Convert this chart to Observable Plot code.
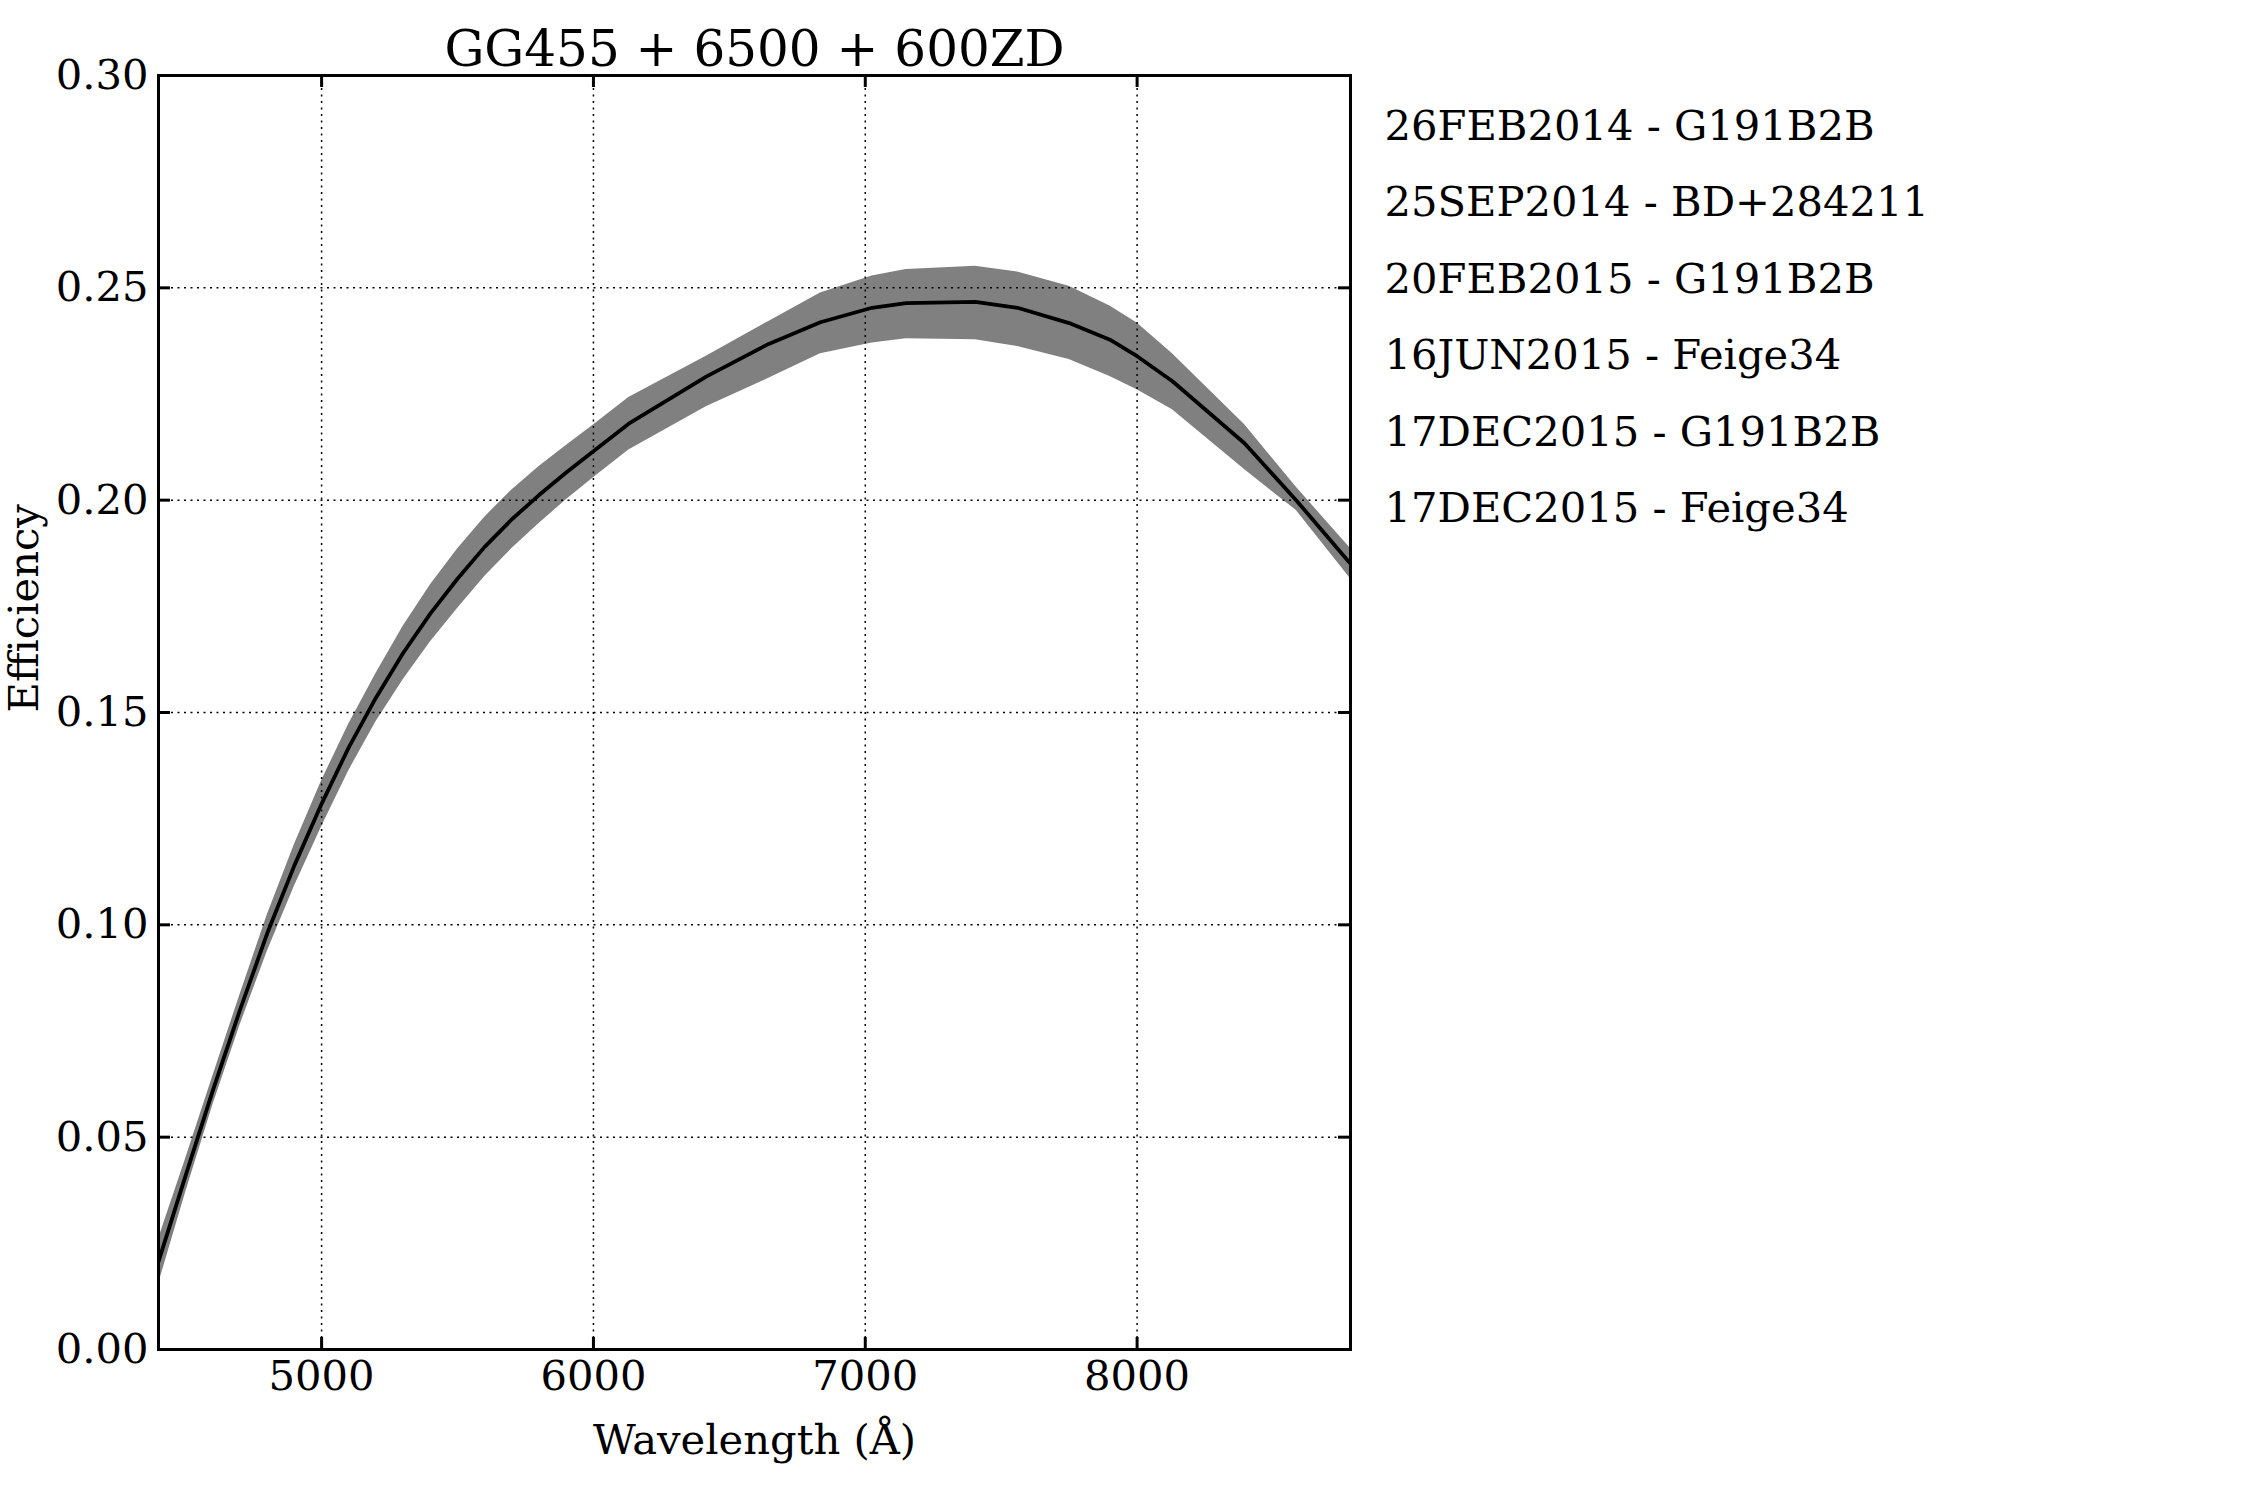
<!DOCTYPE html>
<html>
<head>
<meta charset="utf-8">
<script src="https://cdn.jsdelivr.net/npm/d3@7"></script>
<script src="https://cdn.jsdelivr.net/npm/@observablehq/plot@0.6"></script>
<style>
  html, body { margin: 0; padding: 0; background: white; }
  #chart { width: 2250px; height: 1500px; }
</style>
</head>
<body>
<div id="chart"></div>
<script>
// ---- data ----
const wavelength = [4400, 4500, 4600, 4700, 4800, 4900, 5000, 5100, 5200, 5300, 5400, 5500, 5600, 5700, 5800, 5900, 6000, 6130, 6415, 6645, 6835, 7025, 7150, 7405, 7560, 7750, 7900, 8000, 8130, 8395, 8585, 8785];
const efficiency = [0.0207, 0.0410, 0.0610, 0.0800, 0.0980, 0.1140, 0.1285, 0.1418, 0.1535, 0.1640, 0.1733, 0.1815, 0.1890, 0.1955, 0.2012, 0.2065, 0.2115, 0.2180, 0.2291, 0.2368, 0.2419, 0.2453, 0.2464, 0.2467, 0.2453, 0.2417, 0.2378, 0.2339, 0.2280, 0.2134, 0.2000, 0.1850];
const upper = [0.0260, 0.0450, 0.0644, 0.0836, 0.1023, 0.1189, 0.1339, 0.1473, 0.1592, 0.1703, 0.1800, 0.1885, 0.1960, 0.2024, 0.2079, 0.2129, 0.2177, 0.2242, 0.2339, 0.2421, 0.2488, 0.2528, 0.2543, 0.2551, 0.2537, 0.2504, 0.2457, 0.2417, 0.2345, 0.2178, 0.2031, 0.1886];
const lower = [0.0154, 0.0370, 0.0576, 0.0764, 0.0937, 0.1091, 0.1231, 0.1363, 0.1478, 0.1577, 0.1666, 0.1745, 0.1820, 0.1886, 0.1945, 0.2001, 0.2053, 0.2118, 0.2220, 0.2287, 0.2345, 0.2370, 0.2380, 0.2378, 0.2362, 0.2331, 0.2291, 0.2260, 0.2213, 0.2072, 0.1976, 0.1815];

const xTicks = [5000, 6000, 7000, 8000];
const yTicks = [0.00, 0.05, 0.10, 0.15, 0.20, 0.25, 0.30];
const xDomain = [4400, 8785];
const yDomain = [0, 0.30];

const legendLabels = [
  "26FEB2014 - G191B2B",
  "25SEP2014 - BD+284211",
  "20FEB2015 - G191B2B",
  "16JUN2015 - Feige34",
  "17DEC2015 - G191B2B",
  "17DEC2015 - Feige34"
];
const titleText = "GG455 + 6500 + 600ZD";
const xLabel = "Wavelength (Å)";
const yLabel = "Efficiency";

// ---- table for the marks ----
const rows = wavelength.map((w, i) => ({w, eff: efficiency[i], hi: upper[i], lo: lower[i]}));

// ---- layout ----
const W = 2250, H = 1500;
const mL = 158, mR = 900, mT = 75, mB = 151;
const frameW = W - mL - mR, frameH = H - mT - mB;
const tickLen = 12;
const font = "DejaVu Serif";
const fs = 41.67;

const plot = Plot.plot({
  width: W,
  height: H,
  marginLeft: mL,
  marginRight: mR,
  marginTop: mT,
  marginBottom: mB,
  style: {fontFamily: font, fontSize: fs + "px", color: "black", background: "white"},
  x: {domain: xDomain, ticks: xTicks, tickFormat: d3.format("d"), tickSize: 0, tickPadding: 11, label: null},
  y: {domain: yDomain, ticks: yTicks, tickFormat: d3.format(".2f"), tickSize: 0, tickPadding: 10, label: null},
  marks: [
    Plot.areaY(rows, {x: "w", y1: "lo", y2: "hi", fill: "#808080", clip: true}),
    Plot.gridX(xTicks, {stroke: "black", strokeOpacity: 1, strokeWidth: 1.5, strokeDasharray: "2,4.5"}),
    Plot.gridY(yTicks, {stroke: "black", strokeOpacity: 1, strokeWidth: 1.5, strokeDasharray: "2,4.5"}),
    Plot.line(rows, {x: "w", y: "eff", stroke: "black", strokeWidth: 3.8, clip: true}),
    // inward ticks on all four sides
    Plot.tickX(xTicks, {x: d => d, stroke: "black", strokeWidth: 3, insetTop: frameH - tickLen}),
    Plot.tickX(xTicks, {x: d => d, stroke: "black", strokeWidth: 3, insetBottom: frameH - tickLen}),
    Plot.tickY(yTicks, {y: d => d, stroke: "black", strokeWidth: 3, insetRight: frameW - tickLen}),
    Plot.tickY(yTicks, {y: d => d, stroke: "black", strokeWidth: 3, insetLeft: frameW - tickLen}),
    Plot.frame({stroke: "black", strokeWidth: 3}),
    Plot.axisX(xTicks, {tickSize: 0, tickPadding: 11, tickFormat: d3.format("d"), label: null, fontSize: fs}),
    Plot.axisY(yTicks, {tickSize: 0, tickPadding: 10, tickFormat: d3.format(".2f"), label: null, fontSize: fs}),
    // title
    Plot.text([titleText], {frameAnchor: "top", dy: -10, lineAnchor: "bottom", fontSize: 50, fill: "black"}),
    // axis labels
    Plot.text([xLabel], {frameAnchor: "bottom", dy: 104, lineAnchor: "bottom", fontSize: fs, fill: "black"}),
    Plot.text([yLabel], {frameAnchor: "left", dx: -121, rotate: -90, lineAnchor: "bottom", fontSize: fs, fill: "black"}),
    // legend (text-only entries)
    ...legendLabels.map((t, i) =>
      Plot.text([t], {frameAnchor: "top-right", dx: 34, dy: 64.3 + i * 76.5, textAnchor: "start", lineAnchor: "bottom", fontSize: fs, fill: "black"})
    )
  ]
});

document.getElementById("chart").appendChild(plot);
</script>
</body>
</html>
